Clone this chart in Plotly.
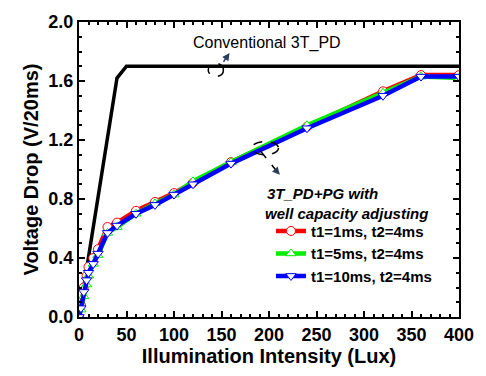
import plotly.graph_objects as go

x_conv = [0, 5, 10, 20, 30, 40, 50, 400]
y_conv = [0, 0.2, 0.4, 0.8, 1.2, 1.62, 1.7, 1.7]

x_pg = [0, 2, 5, 8, 10, 15, 20, 30, 40, 60, 80, 100, 120, 160, 240, 320, 360, 400]
y_red = [0, 0.08, 0.2, 0.28, 0.34, 0.40, 0.46, 0.61, 0.64, 0.72, 0.78, 0.84, 0.91, 1.05, 1.29, 1.53, 1.64, 1.64]
y_green = [0, 0.05, 0.14, 0.22, 0.28, 0.36, 0.42, 0.57, 0.61, 0.70, 0.77, 0.83, 0.92, 1.05, 1.30, 1.52, 1.63, 1.62]
y_blue = [0, 0.06, 0.17, 0.25, 0.30, 0.36, 0.43, 0.57, 0.62, 0.70, 0.76, 0.83, 0.90, 1.04, 1.28, 1.50, 1.63, 1.63]

names = ["t1=1ms, t2=4ms", "t1=5ms, t2=4ms", "t1=10ms, t2=4ms"]
colors = ["#ff0000", "#00ee00", "#0000ff"]
symbols = ["circle", "triangle-up", "triangle-down"]

FONT = "Liberation Sans, Arial, sans-serif"

fig = go.Figure()
fig.add_trace(go.Scatter(x=x_conv, y=y_conv, mode="lines",
                         line=dict(color="black", width=3.5), showlegend=False))
for ys, nm, c, s in zip([y_red, y_green, y_blue], names, colors, symbols):
    fig.add_trace(go.Scatter(x=x_pg, y=ys, mode="lines+markers", name=nm,
                             line=dict(color=c, width=4.5),
                             marker=dict(symbol=s, size=9, color="white",
                                         line=dict(width=1, color=c))))

axis_common = dict(showline=True, linecolor="black", linewidth=2, mirror="ticks",
                   ticks="inside", ticklen=6, tickwidth=2, tickcolor="black",
                   showgrid=False, zeroline=False,
                   tickfont=dict(family=FONT, size=18, color="black", weight="bold"),
                   minor=dict(ticks="inside", ticklen=3, tickwidth=1.5, tickcolor="black"))

fig.update_xaxes(range=[0, 400], dtick=50, tick0=0, minor_dtick=10,
                 title=dict(text="Illumination Intensity (Lux)", standoff=2,
                            font=dict(family=FONT, size=20, color="black", weight="bold")),
                 **axis_common)
fig.update_yaxes(range=[0, 2.0], dtick=0.4, tick0=0, minor_dtick=0.1, tickformat=".1f",
                 title=dict(text="Voltage Drop (V/20ms)", standoff=4,
                            font=dict(family=FONT, size=20, color="black", weight="bold")),
                 **axis_common)

# dashed ellipses
fig.add_shape(type="circle", xref="x", yref="y", x0=136, x1=152, y0=1.63, y1=1.72,
              line=dict(color="black", width=1.5, dash="dash"))
fig.add_shape(type="circle", xref="x", yref="y", x0=182, x1=210, y0=1.10, y1=1.19,
              line=dict(color="black", width=1.5, dash="dash"))
# arrows
fig.add_annotation(x=158.5, y=1.79, ax=151, ay=1.72, xref="x", yref="y", axref="x", ayref="y",
                   showarrow=True, arrowhead=2, arrowsize=1, arrowwidth=1.5, text="")
fig.add_shape(type="line", xref="x", yref="y", x0=191, y0=1.125, x1=208, y1=0.99,
              line=dict(color="black", width=1.5, dash="dash"))
fig.add_annotation(x=211.5, y=0.965, ax=205, ay=1.01, xref="x", yref="y", axref="x", ayref="y",
                   showarrow=True, arrowhead=2, arrowsize=1, arrowwidth=1.5, text="")

fig.add_annotation(x=198, y=1.86, xref="x", yref="y", text="Conventional 3T_PD",
                   showarrow=False, font=dict(family=FONT, size=16, color="black"))
fig.add_annotation(x=(268 - 79) / 386, y=(317 - 193) / 297, xref="paper", yref="paper",
                   xanchor="left", yanchor="middle", showarrow=False,
                   text="<b><i>3T_PD+PG with</i></b>",
                   font=dict(family=FONT, size=15, color="black"))
fig.add_annotation(x=(266 - 79) / 386, y=(317 - 213) / 297, xref="paper", yref="paper",
                   xanchor="left", yanchor="middle", showarrow=False,
                   text="<b><i>well capacity adjusting</i></b>",
                   font=dict(family=FONT, size=15, color="black"))

fig.update_layout(
    width=486, height=376,
    margin=dict(l=79, r=21, t=20, b=59),
    paper_bgcolor="white", plot_bgcolor="white",
    legend=dict(x=(274 - 79) / 386, y=(317 - 214) / 297, xanchor="left", yanchor="top",
                bgcolor="rgba(0,0,0,0)", tracegroupgap=0,
                font=dict(family=FONT, size=15, color="black", weight="bold")),
)

fig.write_html("out.html")
